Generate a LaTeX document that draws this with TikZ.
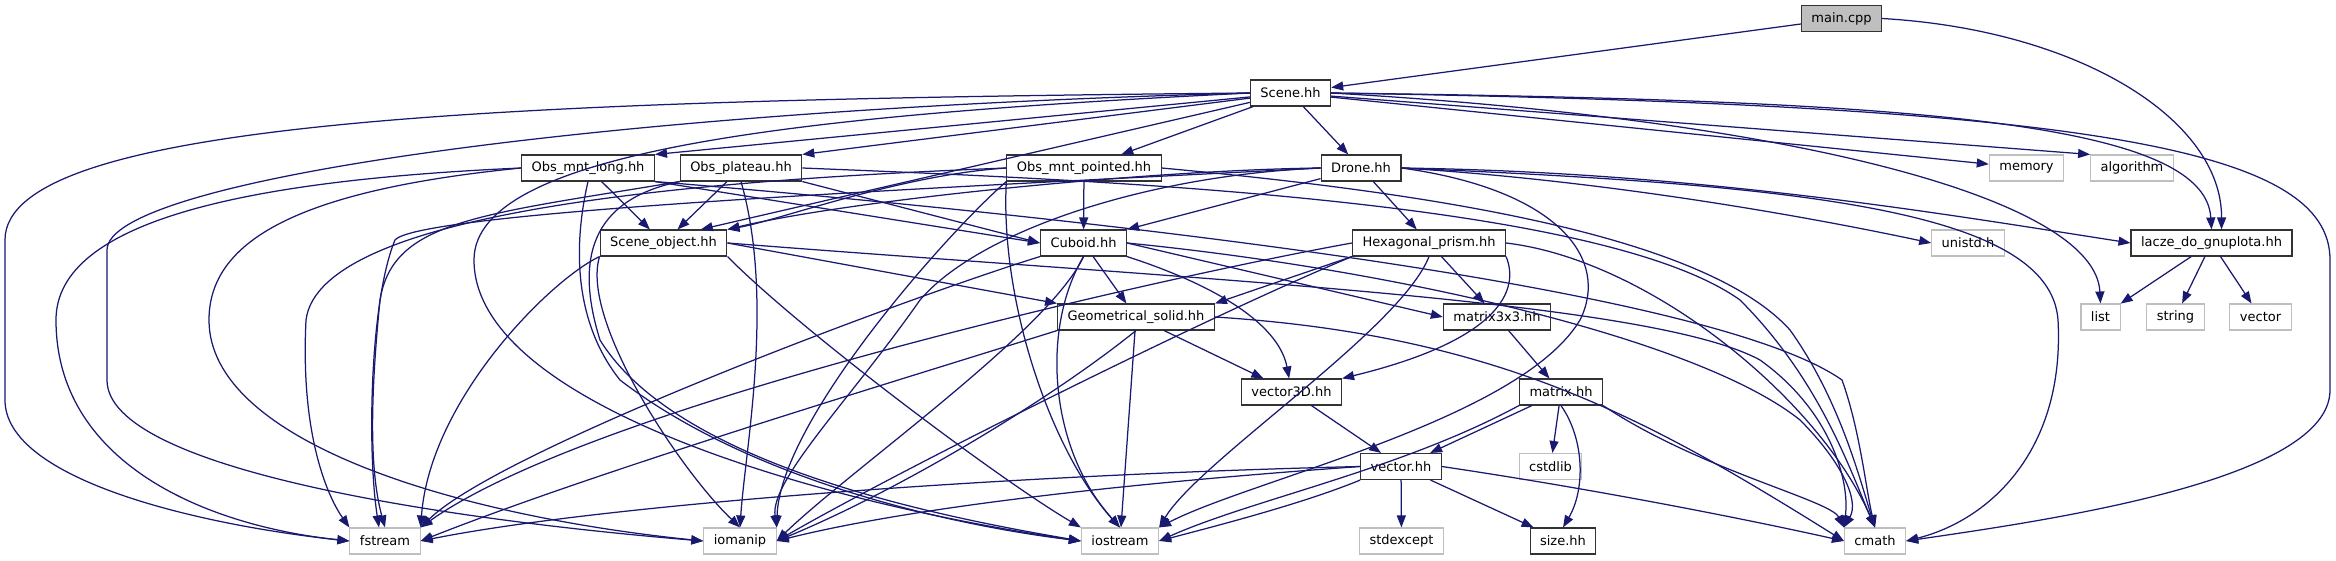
\documentclass[tikz,border=0pt]{standalone}
\usepackage{fontspec}
\setmainfont{DejaVu Sans}
\usetikzlibrary{arrows.meta, positioning}
\definecolor{edgeblue}{HTML}{191970}
\definecolor{sysgray}{HTML}{BFBFBF}
\tikzset{
  hdr/.style ={draw=black!80, fill=white, line width=1.1pt, minimum height=26pt, inner xsep=10pt, inner ysep=0pt, font=\fontsize{13}{15}\selectfont},
  sys/.style ={hdr, draw=sysgray},
  src/.style ={hdr, fill=sysgray},
  dep/.style ={-{Triangle[length=12pt, width=9pt]}, draw=edgeblue, line width=1.25pt},
}

\begin{document}
\begin{tikzpicture}[x=1pt, y=-1pt]
  \useasboundingbox (0,0) rectangle (2336,560);
  % rows of the include graph
  \node[src] (main)   at (1841.5,18.5) {main.cpp};
  \node[hdr] (scene)  at (1290.5,93)   {Scene.hh};
  \node[hdr] (oml)    at (588,168)     {Obs\_mnt\_long.hh};
  \node[hdr] (op)     at (741,168)     {Obs\_plateau.hh};
  \node[hdr] (omp)    at (1084,168)    {Obs\_mnt\_pointed.hh};
  \node[hdr] (drone)  at (1361,168)    {Drone.hh};
  \node[sys] (memory) at (2026.5,168)  {memory};
  \node[sys] (alg)    at (2132,168)    {algorithm};
  \node[hdr] (so)     at (663.5,243)   {Scene\_object.hh};
  \node[hdr] (cuboid) at (1083.5,243)  {Cuboid.hh};
  \node[hdr] (hex)    at (1429,243)    {Hexagonal\_prism.hh};
  \node[sys] (unistd) at (1968,243)    {unistd.h};
  \node[hdr] (lacze)  at (2211.5,243)  {lacze\_do\_gnuplota.hh};
  \node[hdr] (geom)   at (1136,317)    {Geometrical\_solid.hh};
  \node[hdr] (m33)    at (1497,317)    {matrix3x3.hh};
  \node[sys] (list)   at (2100.5,317)  {list};
  \node[sys] (string) at (2175.5,317)  {string};
  \node[sys] (stlvec) at (2260.5,317)  {vector};
  \node[hdr] (v3d)    at (1291.5,392)  {vector3D.hh};
  \node[hdr] (matrix) at (1561,392)    {matrix.hh};
  \node[hdr] (vec)    at (1401,466.5)  {vector.hh};
  \node[sys] (cstdlib) at (1550.5,466.5) {cstdlib};
  \node[sys] (fstream) at (385,541)    {fstream};
  \node[sys] (iomanip) at (740,541)    {iomanip};
  \node[sys] (iostream) at (1120,541)  {iostream};
  \node[sys] (stdexcept) at (1401.5,541) {stdexcept};
  \node[hdr] (size)   at (1563,541)    {size.hh};
  \node[sys] (cmath)  at (1875,541)    {cmath};

  % main.cpp
  \draw[dep] (main) -- (scene);
  \draw[dep] (main.east) .. controls (2080,30) and (2222,120) .. ([xshift=10pt]lacze.north);
  % Scene.hh
  \draw[dep] (scene.west) .. controls (500,100) and (5,120) .. (5,240) -- (5,400) .. controls (5,480) and (200,525) .. (fstream.west);
  \draw[dep] (scene.west) .. controls (600,110) and (107,180) .. (107,250) -- (107,380) .. controls (107,470) and (450,520) .. (iomanip.west);
  \draw[dep] (scene.west) .. controls (800,115) and (474,150) .. (474,260) .. controls (474,400) and (800,500) .. (iostream.west);
  \draw[dep] (scene) -- (oml.north east);
  \draw[dep] (scene) -- (op.north east);
  \draw[dep] (scene) -- (so.20);
  \draw[dep] (scene) -- (omp);
  \draw[dep] (scene) -- (drone);
  \draw[dep] (scene) -- (memory);
  \draw[dep] (scene) -- (alg.north west);
  \draw[dep] (scene.east) .. controls (1900,100) and (2205,120) .. (lacze.north);
  \draw[dep] (scene.east) .. controls (1800,120) and (2095,200) .. (list.north);
  \draw[dep] (scene.east) .. controls (2100,105) and (2330,150) .. (2330,260) -- (2330,390) .. controls (2330,480) and (2050,520) .. (cmath.east);
  % Obs_mnt_long.hh
  \draw[dep] (oml) -- (so);
  \draw[dep] (oml.south east) -- (cuboid.west);
  \draw[dep] (oml.west) .. controls (250,180) and (56,220) .. (56,320) .. controls (56,460) and (200,525) .. (fstream.west);
  \draw[dep] (oml.west) .. controls (300,190) and (209,240) .. (209,320) .. controls (209,440) and (450,515) .. (iomanip.west);
  \draw[dep] (oml.south) .. controls (570,260) and (580,330) .. (620,380) .. controls (750,480) and (950,525) .. (iostream.west);
  \draw[dep] (oml.south east) .. controls (1000,210) and (1700,280) .. (1842,380) .. controls (1860,430) and (1866,490) .. (cmath.north);
  % Obs_plateau.hh
  \draw[dep] (op) -- (so);
  \draw[dep] (op.south east) -- (cuboid.west);
  \draw[dep] (op.south west) .. controls (480,215) and (393,220) .. (380,300) .. controls (368,420) and (372,480) .. (fstream.north);
  \draw[dep] (op.south) .. controls (775,300) and (745,450) .. (iomanip.north);
  \draw[dep] (op.south west) .. controls (590,200) and (575,260) .. (600,340) .. controls (680,470) and (960,520) .. (iostream.west);
  \draw[dep] (op.east) .. controls (1100,180) and (1600,200) .. (1740,300) .. controls (1820,380) and (1850,470) .. (cmath.north);
  % Obs_mnt_pointed.hh
  \draw[dep] (omp.west) .. controls (900,175) and (780,220) .. (so.north east);
  \draw[dep] (omp) -- (cuboid);
  \draw[dep] (omp.west) .. controls (700,180) and (320,210) .. (306,320) .. controls (300,440) and (330,500) .. (fstream.north west);
  \draw[dep] (omp.south west) .. controls (950,230) and (780,420) .. (iomanip.north east);
  \draw[dep] (omp.south west) .. controls (1000,300) and (1050,450) .. (iostream.north);
  \draw[dep] (omp.east) .. controls (1400,190) and (1700,230) .. (1790,330) .. controls (1840,400) and (1860,480) .. (cmath.north);
  % Drone.hh
  \draw[dep] (drone.west) .. controls (1150,170) and (850,200) .. (so.north east);
  \draw[dep] (drone) -- (cuboid.north east);
  \draw[dep] (drone) -- (hex);
  \draw[dep] (drone.east) .. controls (1600,180) and (1800,215) .. (unistd.west);
  \draw[dep] (drone.east) .. controls (1700,172) and (1950,215) .. (lacze.west);
  \draw[dep] (drone.east) .. controls (1800,185) and (2050,210) .. (2058,320) .. controls (2065,450) and (1990,520) .. (cmath.east);
  \draw[dep] (drone.west) .. controls (1000,185) and (420,210) .. (395,240) .. controls (370,300) and (367,450) .. ([xshift=-6pt]fstream.north);
  \draw[dep] (drone.west) .. controls (1150,175) and (980,230) .. (920,300) .. controls (850,400) and (770,480) .. (iomanip.north east);
  \draw[dep] (drone.east) .. controls (1560,190) and (1610,260) .. (1580,320) .. controls (1520,420) and (1250,480) .. (iostream.north east);
  % Scene_object.hh
  \draw[dep] (so.east) -- (geom.north west);
  \draw[dep] (so.south west) .. controls (550,280) and (430,400) .. (fstream.north east);
  \draw[dep] (so.south west) .. controls (580,320) and (680,470) .. (iomanip.north);
  \draw[dep] (so.south east) .. controls (800,330) and (1000,480) .. (iostream.north west);
  \draw[dep] (so.east) .. controls (1200,280) and (1650,300) .. (1760,360) .. controls (1830,410) and (1850,480) .. (cmath.north west);
  % Cuboid.hh
  \draw[dep] (cuboid) -- (geom);
  \draw[dep] (cuboid.east) -- (m33.west);
  \draw[dep] (cuboid.south east) .. controls (1230,290) and (1280,330) .. (v3d.100);
  \draw[dep] (cuboid.south west) .. controls (900,300) and (500,450) .. (fstream.north east);
  \draw[dep] (cuboid.south) .. controls (1050,330) and (850,470) .. (iomanip.east);
  \draw[dep] (cuboid.south) .. controls (1040,330) and (1050,450) .. (iostream.north);
  \draw[dep] (cuboid.east) .. controls (1400,270) and (1700,340) .. (1800,420) .. controls (1840,460) and (1860,500) .. (cmath.north west);
  % Hexagonal_prism.hh
  \draw[dep] (hex.south west) -- (geom.north east);
  \draw[dep] (hex) -- (m33);
  \draw[dep] (hex.south east) .. controls (1520,290) and (1500,340) .. (v3d.north east);
  \draw[dep] (hex.west) .. controls (1200,270) and (600,400) .. (fstream.north east);
  \draw[dep] (hex.south west) .. controls (1200,320) and (900,470) .. (iomanip.east);
  \draw[dep] (hex.south) .. controls (1400,330) and (1200,460) .. (iostream.north east);
  \draw[dep] (hex.east) .. controls (1650,260) and (1820,400) .. (cmath.north);
  % Geometrical_solid.hh
  \draw[dep] (geom) -- (v3d);
  \draw[dep] (geom.south west) .. controls (900,380) and (600,470) .. (fstream.east);
  \draw[dep] (geom.south) .. controls (1050,400) and (900,490) .. (iomanip.east);
  \draw[dep] (geom) -- (iostream);
  \draw[dep] (geom.east) .. controls (1500,335) and (1650,420) .. (cmath.west);
  % matrix3x3.hh, vector3D.hh, matrix.hh
  \draw[dep] (m33) -- (matrix);
  \draw[dep] (v3d) -- (vec);
  \draw[dep] (matrix) -- (vec);
  \draw[dep] (matrix) -- (cstdlib);
  \draw[dep] (matrix.south) .. controls (1585,440) and (1585,490) .. (size.north);
  \draw[dep] (matrix.south east) .. controls (1700,470) and (1830,500) .. (cmath.north west);
  \draw[dep] (matrix.south west) .. controls (1400,470) and (1250,500) .. (iostream.east);
  % vector.hh
  \draw[dep] (vec.west) .. controls (1000,475) and (600,505) .. (fstream.east);
  \draw[dep] (vec.west) .. controls (1100,485) and (900,510) .. (iomanip.east);
  \draw[dep] (vec.south west) .. controls (1300,505) and (1200,530) .. (iostream.east);
  \draw[dep] (vec) -- (stdexcept);
  \draw[dep] (vec) -- (size);
  \draw[dep] (vec.east) .. controls (1600,490) and (1750,520) .. (cmath.west);
  % lacze_do_gnuplota.hh
  \draw[dep] (lacze) -- (list);
  \draw[dep] (lacze) -- (string);
  \draw[dep] (lacze) -- (stlvec);
\end{tikzpicture}
\end{document}
